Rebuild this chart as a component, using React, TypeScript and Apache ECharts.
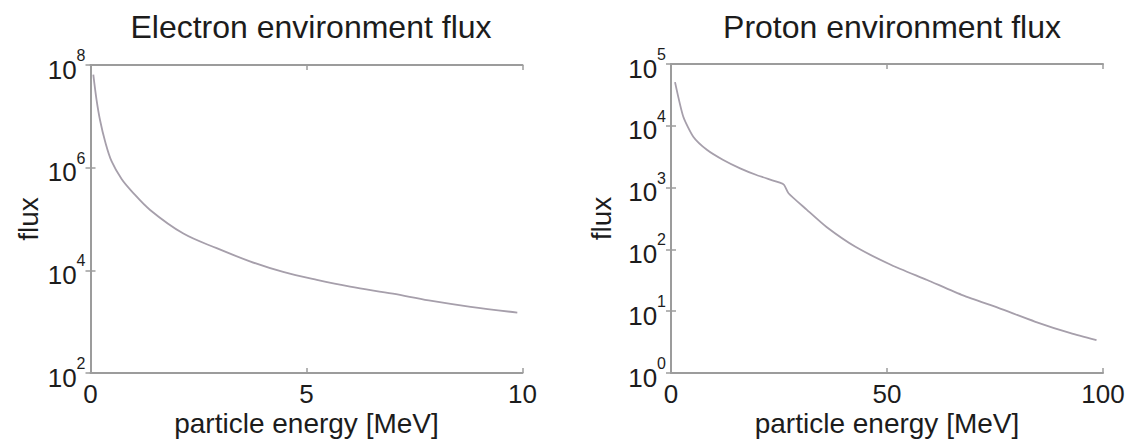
import React, { useEffect, useRef } from "react";
import * as echarts from "echarts";

const electronTitle = "Electron environment flux";
const protonTitle = "Proton environment flux";
const xName = "particle energy [MeV]";
const yName = "flux";

const electronEnergy = [0.065, 0.14, 0.22, 0.34, 0.49, 0.72, 0.95, 1.38, 2.15, 2.92, 3.69, 4.46, 5.24, 6.01, 7.0, 7.83, 8.8, 9.88];
const electronFlux = [6.5e7, 2.1e7, 8.5e6, 3.2e6, 1.32e6, 6.0e5, 3.5e5, 1.5e5, 5.2e4, 2.7e4, 1.5e4, 9.3e3, 6.5e3, 4.8e3, 3.5e3, 2.6e3, 1.95e3, 1.5e3];

const protonEnergy = [0.93, 2.85, 5.2, 8.3, 12.1, 16.0, 19.8, 25.2, 26.2, 27.2, 31.4, 36.0, 42.7, 51.0, 59.3, 67.6, 75.9, 84.2, 92.5, 98.5];
const protonFlux = [5.1e4, 1.4e4, 6.6e3, 4.1e3, 2.8e3, 2.05e3, 1.6e3, 1.2e3, 1.1e3, 8.1e2, 4.4e2, 2.3e2, 110, 56, 32, 18, 11.2, 6.8, 4.4, 3.4];

const electronXTicks = { min: 0, max: 10, interval: 5 };
const electronYTicks = { min: 1e2, max: 1e8, interval: 2 };
const protonXTicks = { min: 0, max: 100, interval: 50 };
const protonYTicks = { min: 1e0, max: 1e5, interval: 1 };

const FONT = "Liberation Sans, Arial, Helvetica, sans-serif";
const TEXT = "#1c1c1c";
const AXIS = "#9c9c9c";
const LINE = "#a69fab";

export default function App() {
  const ref = useRef<HTMLDivElement>(null);
  useEffect(() => {
    if (!ref.current) return;
    const chart = echarts.init(ref.current, null, { renderer: "svg" });

    const axisLine = { show: true, lineStyle: { color: AXIS, width: 2 } };
    const axisTick = { show: true, inside: true, length: 5, lineStyle: { color: AXIS, width: 1.5 } };

    const powLabel = (v: number) => {
      const e = Math.round(Math.log10(v));
      return `{b|10}{s|${e}}`;
    };
    const rich = {
      b: { fontSize: 26, fontFamily: FONT, color: TEXT, padding: [9, 0, 0, 0] },
      s: { fontSize: 16, fontFamily: FONT, color: TEXT, verticalAlign: "top" },
    };

    const xAxisFor = (grid: number, t: any) => [
      {
        gridIndex: grid, type: "value", position: "bottom",
        min: t.min, max: t.max, interval: t.interval,
        axisLine, axisTick, splitLine: { show: false },
        axisLabel: { show: true, fontSize: 26, lineHeight: 22, fontFamily: FONT, color: TEXT, margin: 10 },
        name: xName, nameLocation: "middle", nameGap: 36, nameMoveOverlap: false,
        nameTextStyle: { fontSize: 28, lineHeight: 28, fontFamily: FONT, color: TEXT },
      },
      {
        gridIndex: grid, type: "value", position: "top",
        min: t.min, max: t.max, interval: t.interval,
        axisLine, axisTick, splitLine: { show: false }, axisLabel: { show: false },
      },
    ];
    const yAxisFor = (grid: number, t: any, gap: number) => [
      {
        gridIndex: grid, type: "log", logBase: 10, position: "left",
        min: t.min, max: t.max, interval: t.interval,
        axisLine, axisTick, splitLine: { show: false }, minorTick: { show: false },
        axisLabel: { show: true, formatter: powLabel, rich, margin: 5 },
        name: yName, nameLocation: "middle", nameGap: gap, nameMoveOverlap: false,
        nameTextStyle: { fontSize: 28, fontFamily: FONT, color: TEXT },
      },
      {
        gridIndex: grid, type: "log", logBase: 10, position: "right",
        min: t.min, max: t.max, interval: t.interval,
        axisLine, axisTick, splitLine: { show: false }, axisLabel: { show: false },
      },
    ];

    chart.setOption({
      animation: false,
      backgroundColor: "#ffffff",
      title: [
        { text: electronTitle, left: 306, top: 6, textAlign: "center", textStyle: { fontSize: 32, fontWeight: "normal", fontFamily: FONT, color: TEXT } },
        { text: protonTitle, left: 887, top: 6, textAlign: "center", textStyle: { fontSize: 32, fontWeight: "normal", fontFamily: FONT, color: TEXT } },
      ],
      grid: [
        { left: 90.5, top: 65, width: 432, height: 308, containLabel: false, outerBoundsMode: "none" },
        { left: 671, top: 64, width: 432, height: 309, containLabel: false, outerBoundsMode: "none" },
      ],
      xAxis: [...xAxisFor(0, electronXTicks), ...xAxisFor(1, protonXTicks)],
      yAxis: [...yAxisFor(0, electronYTicks, 48), ...yAxisFor(1, protonYTicks, 56)],
      series: [
        {
          type: "line", xAxisIndex: 0, yAxisIndex: 0,
          data: electronEnergy.map((x, i) => [x, electronFlux[i]]),
          showSymbol: false, smooth: 0.35,
          lineStyle: { color: LINE, width: 1.8 },
        },
        {
          type: "line", xAxisIndex: 2, yAxisIndex: 2,
          data: protonEnergy.map((x, i) => [x, protonFlux[i]]),
          showSymbol: false, smooth: 0.2,
          lineStyle: { color: LINE, width: 1.8 },
        },
      ],
    });
    return () => chart.dispose();
  }, []);
  return <div ref={ref} style={{ position: "fixed", left: 0, top: 0, width: 1131, height: 440 }} />;
}
